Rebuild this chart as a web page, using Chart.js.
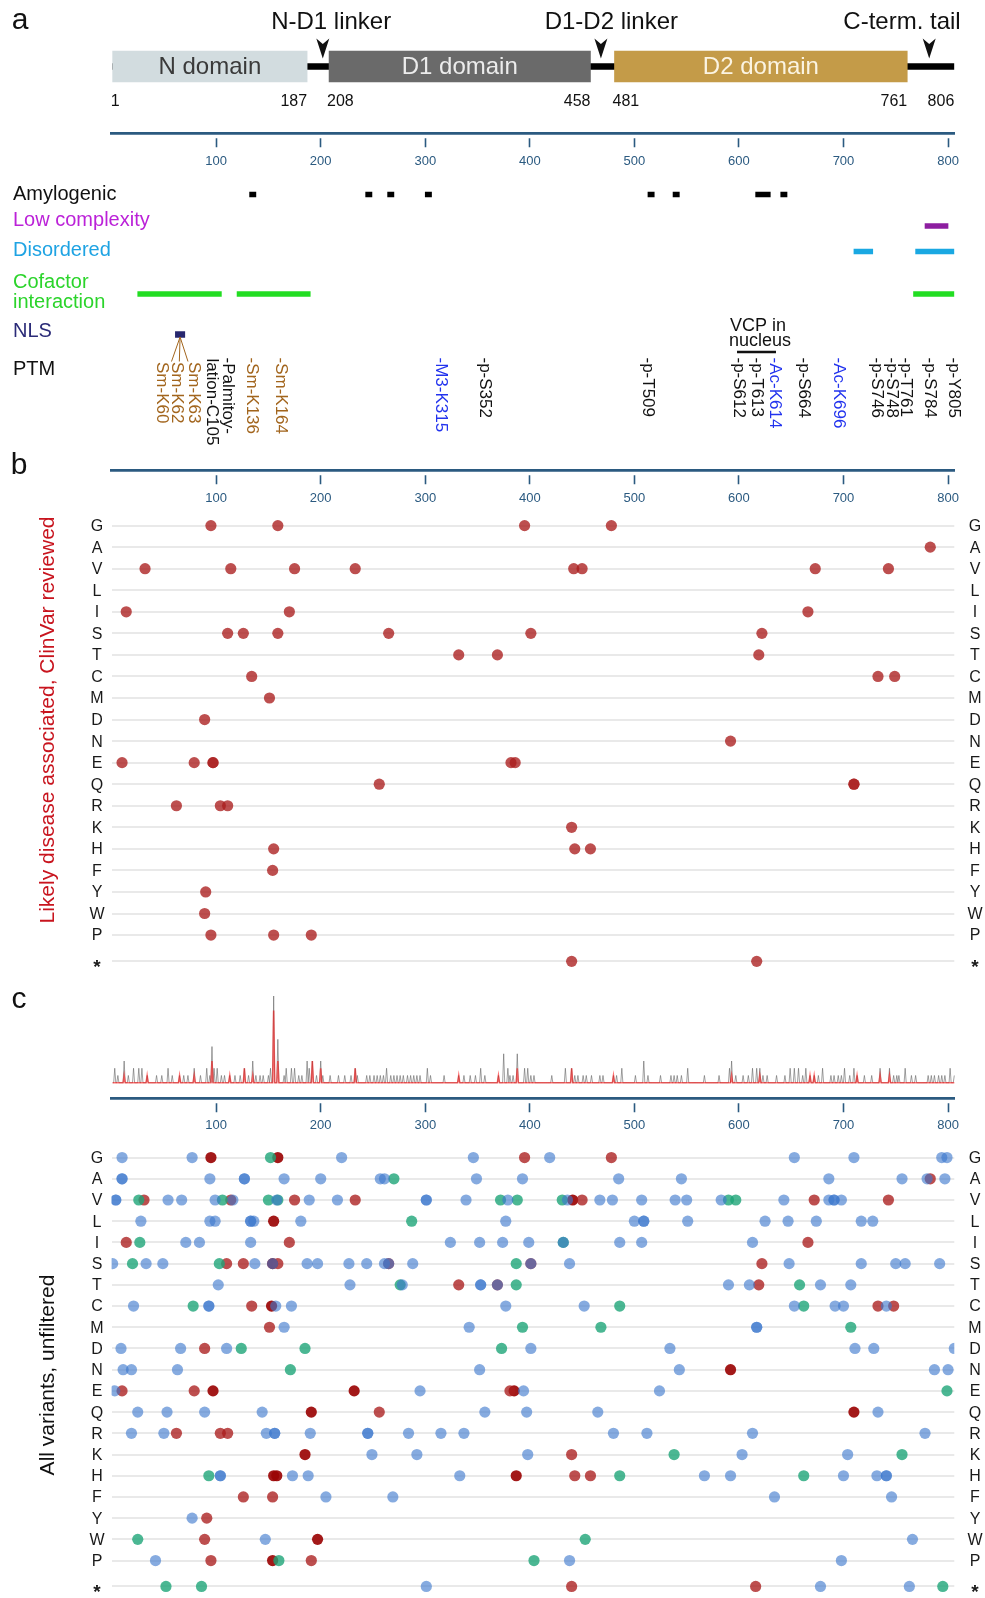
<!DOCTYPE html>
<html>
<head>
<meta charset="utf-8">
<title>VCP domains, features and variants</title>
<script src="https://cdn.jsdelivr.net/npm/chart.js@4.4.1/dist/chart.umd.min.js"></script>
<style>
  html, body { margin: 0; padding: 0; background: #ffffff; }
  #page { position: relative; width: 985px; height: 1598px; overflow: hidden; background: #fff; }
  #page canvas { position: absolute; left: 0; }
</style>
</head>
<body>
<div id="page">
  <canvas id="panelA" width="985" height="460" style="top:0px"></canvas>
  <canvas id="panelB" width="985" height="545" style="top:440px"></canvas>
  <canvas id="panelC1" width="985" height="150" style="top:985px"></canvas>
  <canvas id="panelC2" width="985" height="463" style="top:1135px"></canvas>
</div>
<script>
// ================= DATA =================
const proteinLength = 806;
const axisTicks = [100, 200, 300, 400, 500, 600, 700, 800];

const domainNames = ['N domain', 'D1 domain', 'D2 domain'];
const domainStart = [1, 208, 481];
const domainEnd = [187, 458, 761];

const linkerNames = ['N-D1 linker', 'D1-D2 linker', 'C-term. tail'];
const linkerSites = [202, 468, 782];

const amylogenicStart = [132, 243, 264, 300, 513, 537, 616, 640];
const amylogenicEnd   = [138, 249, 270, 306, 519, 543, 630, 646];
const lowComplexityStart = [778];
const lowComplexityEnd   = [800];
const disorderedStart = [710, 769];
const disorderedEnd   = [728, 806];
const cofactorStart = [25, 120, 767];
const cofactorEnd   = [105, 190, 806];
const nlsStart = [61];
const nlsEnd   = [70];

const ptmNames = ['Sm-K60', 'Sm-K62', 'Sm-K63', '-Palmitoy-|lation-C105', '-Sm-K136', '-Sm-K164', '-M3-K315', '-p-S352',
  '-p-T509', '-p-S612', '-p-T613', '-Ac-K614', '-p-S664', '-Ac-K696', '-p-S746', '-p-S748', '-p-T761', '-p-S784', '-p-Y805'];
const ptmSites = [60, 62, 63, 105, 136, 164, 315, 352, 509, 612, 613, 614, 664, 696, 746, 748, 761, 784, 805];
const ptmKinds = ['Sm', 'Sm', 'Sm', 'Palm', 'Sm', 'Sm', 'Me', 'P', 'P', 'P', 'P', 'Ac', 'P', 'Ac', 'P', 'P', 'P', 'P', 'P'];

const aminoAcids = ['G', 'A', 'V', 'L', 'I', 'S', 'T', 'C', 'M', 'D', 'N', 'E', 'Q', 'R', 'K', 'H', 'F', 'Y', 'W', 'P', '*'];

// panel b: likely disease associated (ClinVar reviewed), "row position position ..."
const diseaseVariants = [
  'G 95 159 395 478', 'A 783', 'V 32 114 175 233 442 450 673 743', 'I 14 170 666',
  'S 111 126 159 265 401 622', 'T 332 369 619', 'C 134 733 749', 'M 151', 'D 89', 'N 592',
  'E 10 79 97 97 382 386', 'Q 256 710 710', 'R 62 104 111', 'K 440', 'H 155 443 458',
  'F 154', 'Y 90', 'W 89', 'P 95 155 191', '* 440 617'
];

// panel c: all variants, unfiltered
const allBlue = [
  'G 10 77 220 346 419 653 710 794 799',
  'A 10 10 94 127 127 165 200 257 261 349 393 485 545 686 756 780 797',
  'V 4 4 54 67 99 116 158 189 216 301 301 339 379 436 467 479 507 539 550 583 643 686 691 691 698',
  'L 28 94 99 133 133 136 181 377 500 509 509 551 625 647 674 717 728',
  'I 71 84 133 324 352 374 399 432 486 507 613',
  'S 1 33 49 137 154 187 197 227 244 261 265 288 401 438 648 717 750 759 792',
  'T 102 228 278 353 353 369 590 610 678 707',
  'C 21 93 93 157 172 377 452 653 692 700 741',
  'M 165 342 617 617',
  'D 9 66 110 401 534 711 729 806',
  'N 11 19 63 352 543 787 800',
  'E 3 295 394 524',
  'Q 25 53 89 144 357 397 465 733',
  'R 19 50 148 156 156 190 245 245 284 315 337 480 512 613 778',
  'K 249 292 398 603 704',
  'H 104 104 173 188 333 567 592 700 732 741 741',
  'F 205 269 634 746',
  'Y 77',
  'W 147 766',
  'P 42 438 698',
  '* 301 678 763'
];
const allGreen = [
  'G 152', 'A 270', 'V 26 106 150 159 372 388 431 590 597', 'L 287', 'I 27 432', 'S 20 103 387',
  'T 276 387 658', 'C 78 486 662', 'M 393 468 707', 'D 124 185 373', 'N 171', 'E 799',
  'K 538 756', 'H 93 486 662', 'W 25 453', 'P 160 404', '* 52 86 795'
];
const allRed = [
  'G 395 478', 'A 783', 'V 31 114 175 233 450 672 743', 'I 14 170 666', 'S 110 126 159 265 401 622',
  'T 332 369 619', 'C 134 733 748', 'M 151', 'D 89', 'E 10 79 381', 'Q 256', 'R 62 104 111',
  'K 440', 'H 443 458', 'F 126 154', 'Y 91', 'W 89', 'P 95 191', '* 440 616'
];
const allDarkRed = [
  'G 95 159', 'V 441', 'L 155', 'S 154', 'C 153', 'N 592', 'E 97 232 385', 'Q 191 710',
  'K 185', 'H 155 158 387', 'W 197', 'P 154'
];

// panel c top: variant counts per residue [residue, count] (all = grey, disease = red)
const sparkAll = [
  [3,2],[6,1],[12,3],[16,1],[21,2],[26,2],[29,2],[34,1],[43,1],[48,1],[54,2],[58,1],[65,1],[69,1],[73,1],
  [79,2],[85,1],[91,2],[94,1],[96,5],[98,2],[101,2],[105,1],[108,1],[113,1],[118,1],[123,1],[127,2],[131,1],
  [135,3],[138,1],[142,1],[145,1],[150,1],[152,2],[155,12],[159,6],[165,1],[167,2],[172,2],[175,2],[179,1],
  [182,1],[187,3],[189,2],[192,3],[196,1],[200,3],[202,1],[209,1],[217,1],[223,1],[229,1],[233,2],[235,1],
  [244,1],[247,1],[251,1],[254,1],[257,1],[260,1],[263,2],[267,1],[270,1],[273,1],[276,1],[279,1],[283,1],
  [286,1],[289,1],[292,1],[295,1],[302,2],[305,1],[318,1],[332,1],[337,1],[343,1],[348,1],[353,2],[357,1],
  [370,1],[375,4],[379,2],[381,1],[384,1],[388,4],[395,2],[398,2],[401,1],[404,1],[421,1],[434,2],[440,2],
  [443,1],[446,1],[451,1],[454,1],[459,1],[467,1],[470,1],[480,1],[483,1],[488,2],[501,1],[509,3],[513,1],
  [525,1],[535,1],[538,1],[541,1],[545,1],[551,2],[567,1],[581,1],[591,2],[593,3],[597,1],[604,1],[609,1],
  [613,2],[617,2],[620,2],[623,1],[627,1],[636,1],[644,1],[649,2],[653,2],[657,2],[661,1],[664,2],[668,1],
  [672,1],[676,1],[680,2],[688,1],[691,1],[695,1],[698,1],[701,2],[706,1],[710,2],[713,1],[720,1],[727,1],
  [735,2],[744,2],[748,1],[751,1],[753,1],[759,2],[765,1],[769,1],[781,1],[784,1],[787,1],[791,1],[794,1],
  [797,1],[802,2],[806,1]
];
const sparkDisease = [
  [12,1],[34,1],[65,1],[79,1],[96,3],[113,1],[127,2],[135,1],[155,10],[159,3],[192,3],[200,2],[233,2],
  [332,1],[370,1],[388,2],[440,2],[480,1],[593,1],[620,1],[668,1],[672,1],[713,1],[735,1],[744,1]
];

// ================= LAYOUT / STYLE =================
const FONT = "'Liberation Sans', Arial, Helvetica, sans-serif";
const AXIS_COLOR = '#2b5a80';
const PAD_LEFT = 111.6, PAD_RIGHT = 30.7;
const TRACK_Y = { domain: 66.5, amylogenic: 194.5, lowComplexity: 226, disordered: 251.5, cofactor: 294, nls: 334.5 };
const DOMAIN_COLORS = ['#d2dcdf', '#6a6a6a', '#c49b48'];
const DOMAIN_TEXT = ['#3a3a3a', '#ececec', '#fbf4e2'];
const linkerLabelAt = [210, 478, 756];
const ptmLabelAt = [47.9, 62.3, 78.2, 103.2, 134, 161.8, 315, 356.5, 512.5, 600.1, 617.3, 634.5, 662.4, 695.8, 732, 746.4, 759.8, 782.8, 805.7];
const PTM_COLORS = { Sm: '#a2651d', Palm: '#111111', Me: '#2233ee', Ac: '#2233ee', P: '#111111' };
const ROW_STAR = 20.22;
const rowValue = i => (i < 20 ? i : ROW_STAR);

function parseRows(list) {
  const pts = [];
  list.forEach(line => {
    const parts = line.trim().split(/\s+/);
    const row = rowValue(aminoAcids.indexOf(parts[0]));
    parts.slice(1).forEach(p => pts.push({ x: +p, y: row }));
  });
  return pts;
}
function bars(starts, ends, y) { return starts.map((s, i) => ({ x: [s, ends[i]], y })); }
function expandCounts(pairs) {
  const m = new Map(pairs);
  const out = [];
  for (let r = 1; r <= proteinLength; r++) out.push({ x: r, y: m.get(r) || 0 });
  return out;
}
function xAxis(pos) {
  return {
    type: 'linear', min: 0, max: proteinLength, position: pos, offset: false,
    afterBuildTicks: s => { s.ticks = axisTicks.map(v => ({ value: v })); },
    border: { display: true, color: AXIS_COLOR, width: 2.7 },
    grid: { drawOnChartArea: false, drawTicks: true, tickLength: 14, tickWidth: 1.6, tickColor: AXIS_COLOR, tickBorderDash: [0, 3.5, 9, 100], offset: false },
    ticks: { color: AXIS_COLOR, font: { family: FONT, size: 13 }, padding: 6, maxRotation: 0, autoSkip: false }
  };
}
function rowAxis(min, max) {
  return {
    type: 'linear', min, max, reverse: true, offset: false,
    afterBuildTicks: s => { s.ticks = aminoAcids.map((a, i) => ({ value: rowValue(i) })); },
    ticks: { display: false },
    grid: { color: '#e9e9e9', lineWidth: 2, drawTicks: false },
    border: { display: false }
  };
}
const baseOpts = {
  responsive: false, animation: false, events: [],
  plugins: { legend: { display: false }, tooltip: { enabled: false } }
};

function vtext(ctx, txt, x, y) {
  ctx.save(); ctx.translate(x, y); ctx.rotate(Math.PI / 2);
  ctx.textAlign = 'left'; ctx.textBaseline = 'middle'; ctx.fillText(txt, 0, 0); ctx.restore();
}
function ytitle(ctx, txt, x, y) {
  ctx.save(); ctx.translate(x, y); ctx.rotate(-Math.PI / 2);
  ctx.textAlign = 'center'; ctx.textBaseline = 'middle'; ctx.fillText(txt, 0, 0); ctx.restore();
}

// ================= PANEL A =================
const panelAPlugin = {
  id: 'panelA',
  afterDraw(chart) {
    const { ctx } = chart;
    const xs = chart.scales.x, ys = chart.scales.y;
    const X = v => xs.getPixelForValue(v), Y = v => ys.getPixelForValue(v);
    ctx.save();
    ctx.textBaseline = 'middle';
    // panel letter
    ctx.fillStyle = '#111'; ctx.font = `30px ${FONT}`; ctx.textAlign = 'center';
    ctx.fillText('a', 20, 21);
    // domain labels
    ctx.font = `24px ${FONT}`;
    chart.getDatasetMeta(1).data.forEach((el, i) => {
      const c = el.getCenterPoint();
      ctx.fillStyle = DOMAIN_TEXT[i];
      ctx.fillText(domainNames[i], c.x, c.y + 1);
    });
    // linkers
    ctx.fillStyle = '#111';
    linkerSites.forEach((r, i) => {
      const x = X(r);
      ctx.beginPath();
      ctx.moveTo(x, Y(58.5)); ctx.lineTo(x - 6.5, Y(38.5)); ctx.lineTo(x, Y(44)); ctx.lineTo(x + 6.5, Y(38.5));
      ctx.closePath(); ctx.fill();
      ctx.textAlign = 'center'; ctx.font = `24px ${FONT}`;
      ctx.fillText(linkerNames[i], X(linkerLabelAt[i]), Y(22.5));
    });
    // boundary numbers
    ctx.font = `16px ${FONT}`;
    domainStart.forEach((s, i) => {
      ctx.textAlign = 'left'; ctx.fillText(String(s), X(s) - 2, Y(102));
      ctx.textAlign = 'right'; ctx.fillText(String(domainEnd[i]), X(domainEnd[i]), Y(102));
    });
    ctx.textAlign = 'right'; ctx.fillText(String(proteinLength), X(proteinLength), Y(102));
    // track labels
    ctx.textAlign = 'left'; ctx.font = `20px ${FONT}`;
    const tl = [
      ['Amylogenic', 194, '#111'], ['Low complexity', 220, '#bb22d8'], ['Disordered', 250.6, '#1ea3e3'],
      ['Cofactor', 282, '#2bd42b'], ['interaction', 302.5, '#2bd42b'], ['NLS', 331, '#2b2b78'], ['PTM', 369.5, '#111']
    ];
    tl.forEach(([t, y, c]) => { ctx.fillStyle = c; ctx.fillText(t, 13, Y(y)); });
    // VCP in nucleus note
    ctx.fillStyle = '#111'; ctx.textAlign = 'center'; ctx.font = `18px ${FONT}`;
    const iS612 = ptmSites.indexOf(612), iK614 = ptmSites.indexOf(614);
    const noteX = (X(ptmLabelAt[iS612]) + X(ptmLabelAt[iK614])) / 2 + 1;
    ctx.fillText('VCP in', noteX, Y(326));
    ctx.fillText('nucleus', noteX + 2, Y(341));
    ctx.strokeStyle = '#111'; ctx.lineWidth = 2.5;
    ctx.beginPath(); ctx.moveTo(X(ptmLabelAt[iS612]) - 2, Y(352)); ctx.lineTo(X(ptmLabelAt[iK614]) + 1, Y(352)); ctx.stroke();
    // NLS to sumo lines
    const nlsX = X((nlsStart[0] + nlsEnd[0]) / 2);
    ctx.strokeStyle = '#a2651d'; ctx.lineWidth = 1;
    [0, 1, 2].forEach(i => {
      const lx = X(ptmLabelAt[i]);
      ctx.beginPath(); ctx.moveTo(nlsX, Y(337)); ctx.lineTo(nlsX + 0.52 * (lx - nlsX) + 1, Y(361.5)); ctx.stroke();
    });
    // PTM labels (rotated)
    ctx.font = `17px ${FONT}`;
    ptmNames.forEach((name, i) => {
      ctx.fillStyle = PTM_COLORS[ptmKinds[i]];
      const x = X(ptmLabelAt[i]);
      if (name.includes('|')) {
        const [l1, l2] = name.split('|');
        vtext(ctx, l1, x + 8.5, Y(357.5));
        vtext(ctx, l2, x - 8, Y(358.5));
      } else {
        const top = name.startsWith('-') ? 357.5 : 362;
        vtext(ctx, name, x, Y(top));
      }
    });
    ctx.restore();
  }
};

new Chart(document.getElementById('panelA'), {
  type: 'bar',
  data: {
    datasets: [
      { label: 'backbone', data: bars([1], [proteinLength], TRACK_Y.domain), backgroundColor: '#000', barThickness: 6, order: 2 },
      { label: 'domains', data: bars(domainStart, domainEnd, TRACK_Y.domain), backgroundColor: DOMAIN_COLORS, barThickness: 31, order: 1 },
      { label: 'Amylogenic', data: bars(amylogenicStart, amylogenicEnd, TRACK_Y.amylogenic), backgroundColor: '#000', barThickness: 5 },
      { label: 'Low complexity', data: bars(lowComplexityStart, lowComplexityEnd, TRACK_Y.lowComplexity), backgroundColor: '#8d1ea0', barThickness: 5 },
      { label: 'Disordered', data: bars(disorderedStart, disorderedEnd, TRACK_Y.disordered), backgroundColor: '#1aa8e2', barThickness: 5 },
      { label: 'Cofactor interaction', data: bars(cofactorStart, cofactorEnd, TRACK_Y.cofactor), backgroundColor: '#22dd22', barThickness: 5 },
      { label: 'NLS', data: bars(nlsStart, nlsEnd, TRACK_Y.nls), backgroundColor: '#27276e', barThickness: 6 }
    ]
  },
  options: Object.assign({}, baseOpts, {
    indexAxis: 'y',
    layout: { padding: { left: PAD_LEFT, right: PAD_RIGHT, top: 0, bottom: 0 } },
    datasets: { bar: { grouped: false, borderWidth: 0, borderSkipped: false } },
    scales: {
      x: xAxis({ y: 133.3 }),
      y: { type: 'linear', min: 0, max: 460, reverse: true, display: false, offset: false, grace: 0, grid: { offset: false } }
    }
  }),
  plugins: [panelAPlugin]
});

// ================= ROW LABEL PLUGIN =================
function rowPlugin(id, letter, letterY, title, titleColor, titleY) {
  return {
    id,
    afterDraw(chart) {
      const { ctx, chartArea } = chart;
      const ys = chart.scales.y;
      ctx.save();
      ctx.fillStyle = '#1a1a1a'; ctx.textAlign = 'center'; ctx.textBaseline = 'middle';
      aminoAcids.forEach((a, i) => {
        const isStar = a === '*';
        ctx.font = isStar ? `bold 19px ${FONT}` : `16px ${FONT}`;
        const y = ys.getPixelForValue(rowValue(i)) + (isStar ? 6 : 1);
        ctx.fillText(a, chartArea.left - 14.6, y);
        ctx.fillText(a, chartArea.right + 20.7, y);
      });
      if (letter) { ctx.font = `30px ${FONT}`; ctx.fillStyle = '#111'; ctx.fillText(letter, 19, letterY); }
      if (title) { ctx.font = `21px ${FONT}`; ctx.fillStyle = titleColor; ytitle(ctx, title, 48, titleY); }
      ctx.restore();
    }
  };
}

// ================= PANEL B =================
new Chart(document.getElementById('panelB'), {
  type: 'scatter',
  data: {
    datasets: [{
      label: 'Likely disease associated', data: parseRows(diseaseVariants),
      pointBackgroundColor: 'rgba(170,30,30,0.78)', pointBorderWidth: 0, pointRadius: 5.6
    }]
  },
  options: Object.assign({}, baseOpts, {
    layout: { padding: { left: PAD_LEFT, right: PAD_RIGHT, top: 20.95, bottom: 6.85 } },
    scales: { x: xAxis({ y: -2.552 }), y: rowAxis(-3, 21) }
  }),
  plugins: [rowPlugin('rowsB', 'b', 26, 'Likely disease associated, ClinVar reviewed', '#c8141e', 280)]
});

// ================= PANEL C (counts) =================
new Chart(document.getElementById('panelC1'), {
  type: 'line',
  data: {
    datasets: [
      { label: 'disease', data: expandCounts(sparkDisease), borderColor: 'rgba(255,0,0,0.55)', borderWidth: 1.6, pointRadius: 0, order: 0, clip: false },
      { label: 'all', data: expandCounts(sparkAll), borderColor: 'rgba(105,105,105,0.62)', borderWidth: 1, pointRadius: 0, order: 1, clip: false }
    ]
  },
  options: Object.assign({}, baseOpts, {
    layout: { padding: { left: PAD_LEFT, right: PAD_RIGHT, top: 11, bottom: 52.3 } },
    elements: { line: { tension: 0 } },
    scales: { x: xAxis({ y: -2.118 }), y: { type: 'linear', min: 0, max: 12, display: false } }
  }),
  plugins: [{
    id: 'letterC',
    afterDraw(chart) {
      const { ctx } = chart;
      ctx.save(); ctx.fillStyle = '#111'; ctx.font = `30px ${FONT}`; ctx.textAlign = 'center'; ctx.textBaseline = 'middle';
      ctx.fillText('c', 19, 15); ctx.restore();
    }
  }]
});

// ================= PANEL C (all variants) =================
new Chart(document.getElementById('panelC2'), {
  type: 'scatter',
  data: {
    datasets: [
      { label: 'blue', data: parseRows(allBlue), pointBackgroundColor: 'rgba(60,120,205,0.62)', pointBorderWidth: 0, pointRadius: 5.6, order: 0 },
      { label: 'green', data: parseRows(allGreen), pointBackgroundColor: 'rgba(30,165,120,0.8)', pointBorderWidth: 0, pointRadius: 5.6, order: 1 },
      { label: 'red', data: parseRows(allRed), pointBackgroundColor: 'rgba(170,30,30,0.78)', pointBorderWidth: 0, pointRadius: 5.6, order: 2 },
      { label: 'dark red', data: parseRows(allDarkRed), pointBackgroundColor: 'rgba(155,5,5,0.92)', pointBorderWidth: 0, pointRadius: 5.6, order: 3 }
    ]
  },
  options: Object.assign({}, baseOpts, {
    layout: { padding: { left: PAD_LEFT, right: PAD_RIGHT, top: 2.75, bottom: 1 } },
    scales: { x: { type: 'linear', min: 0, max: proteinLength, display: false }, y: rowAxis(-0.8, 20.5) }
  }),
  plugins: [rowPlugin('rowsC', null, 0, 'All variants, unfiltered', '#111', 240)]
});
</script>
</body>
</html>
